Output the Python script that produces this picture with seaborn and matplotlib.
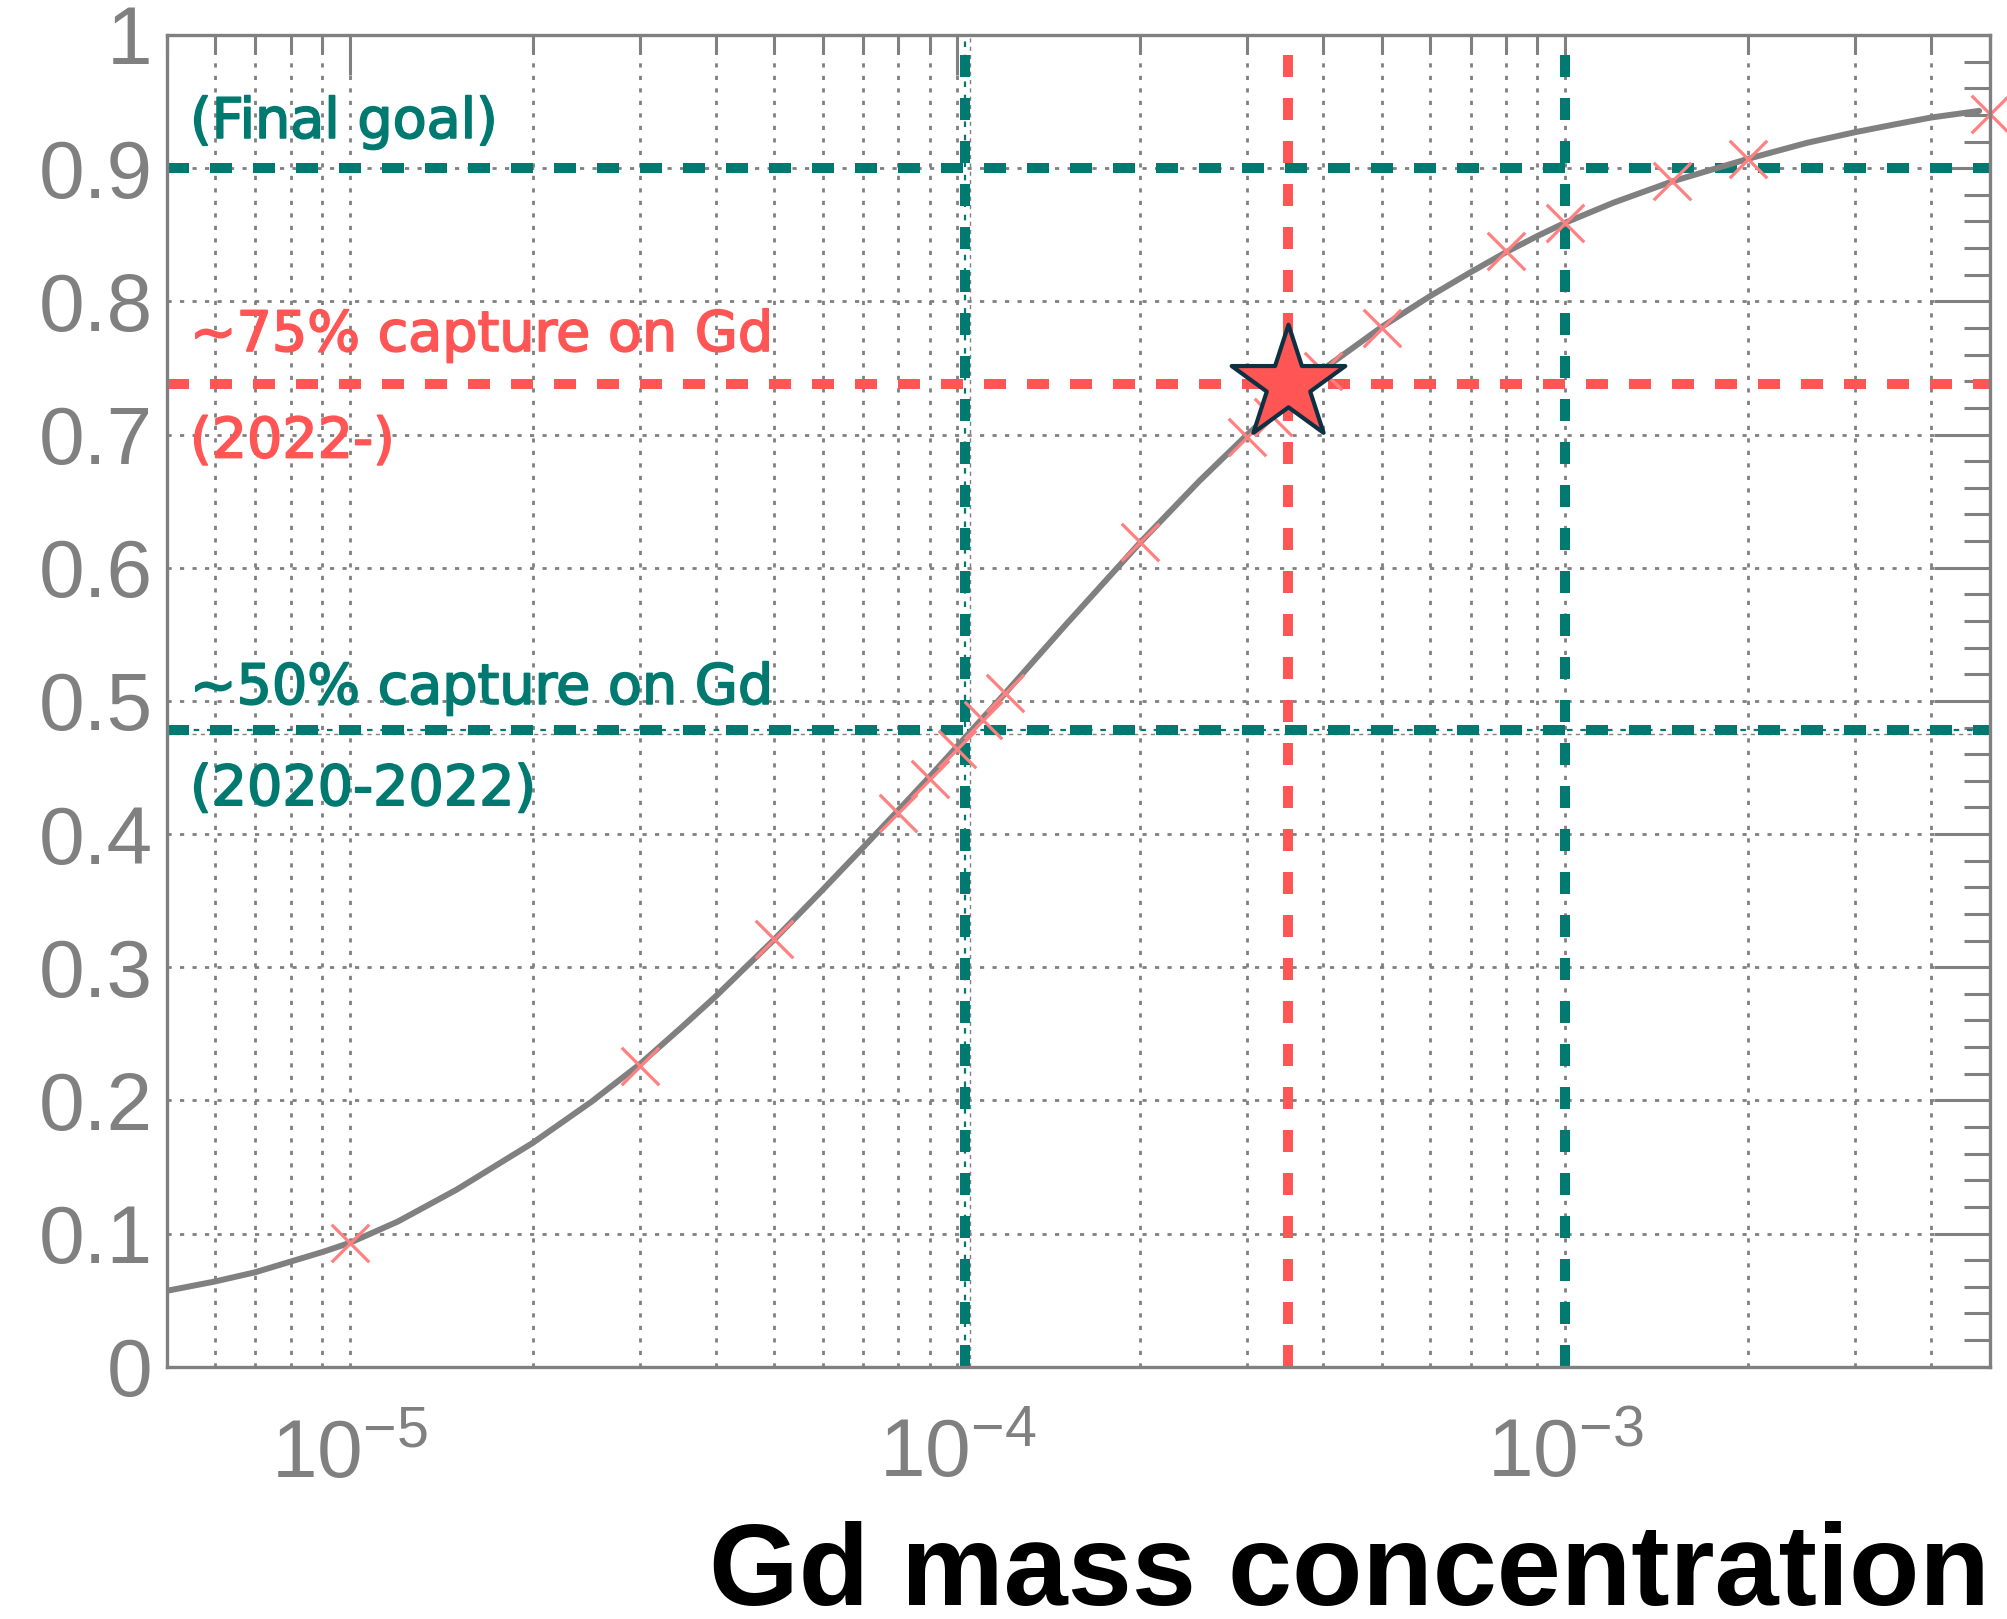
import matplotlib
matplotlib.use("Agg")
import matplotlib.pyplot as plt
import matplotlib.ticker as mticker
import matplotlib.transforms as mtransforms
import matplotlib.patheffects as pe
import numpy as np
import pandas as pd
import seaborn as sns

# ---- data -----------------------------------------------------------------
# fitted capture fraction on Gd vs. Gd mass concentration
curve_conc = [5e-6, 6e-6, 7e-6, 8e-6, 9e-6, 1e-5, 1.2e-5, 1.5e-5, 2e-5, 2.5e-5,
              3e-5, 3.5e-5, 4e-5, 5e-5, 6e-5, 7e-5, 8e-5, 9e-5, 1e-4, 1.2e-4,
              1.5e-4, 2e-4, 2.5e-4, 3e-4, 3.5e-4, 4e-4, 5e-4, 6e-4, 7e-4, 8e-4,
              9e-4, 1e-3, 1.2e-3, 1.5e-3, 2e-3, 2.5e-3, 3e-3, 3.5e-3, 4e-3, 4.8e-3]
curve_frac = [0.057, 0.064, 0.071, 0.079, 0.086, 0.093, 0.109, 0.133, 0.168, 0.199,
              0.227, 0.254, 0.278, 0.321, 0.358, 0.390, 0.418, 0.443, 0.466, 0.506,
              0.556, 0.619, 0.665, 0.700, 0.727, 0.749, 0.781, 0.804, 0.822, 0.837,
              0.849, 0.859, 0.874, 0.890, 0.907, 0.919, 0.927, 0.933, 0.938, 0.943]

# simulated points
meas_conc = [1e-5, 3e-5, 5e-5, 8e-5, 9e-5, 1e-4, 1.1e-4, 1.2e-4, 2e-4, 3e-4,
             3.3e-4, 4e-4, 5e-4, 8e-4, 1e-3, 1.5e-3, 2e-3, 5e-3]
meas_frac = [0.093, 0.226, 0.321, 0.416, 0.441, 0.464, 0.486, 0.506, 0.619, 0.698,
             0.713, 0.748, 0.780, 0.838, 0.859, 0.890, 0.907, 0.941]

# current working point
star_conc = [3.5e-4]
star_frac = [0.738]

# reference levels
teal_levels_y = [0.9, 0.478]
teal_levels_x = [1.03e-4, 1e-3]
red_level_y = 0.738
red_level_x = 3.5e-4
guide_y = 0.475
guide_x = 1.048e-4

y_tick_values = [0, 0.1, 0.2, 0.3, 0.4, 0.5, 0.6, 0.7, 0.8, 0.9, 1.0]
y_tick_labels = ["0", "0.1", "0.2", "0.3", "0.4", "0.5", "0.6", "0.7", "0.8", "0.9", "1"]
x_tick_values = [1e-5, 1e-4, 1e-3]
x_tick_labels = [r"$\mathregular{10^{-5}}$", r"$\mathregular{10^{-4}}$", r"$\mathregular{10^{-3}}$"]

annotations = [
    ("(Final goal)", 0.934, "teal"),
    ("~75% capture on Gd", 0.774, "red"),
    ("(2022-)", 0.694, "red"),
    ("~50% capture on Gd", 0.509, "teal"),
    ("(2020-2022)", 0.433, "teal"),
]

# ---- style ----------------------------------------------------------------
GRAY = "#808080"
TEAL = "#007A70"
RED = "#FF5555"
PINK = "#FF8080"
NAVY = "#0D3142"

sns.set_style("white")
plt.rcParams["font.family"] = ["Liberation Sans", "DejaVu Sans"]
plt.rcParams["mathtext.fontset"] = "custom"
plt.rcParams["mathtext.rm"] = "Liberation Sans"
plt.rcParams["mathtext.it"] = "Liberation Sans:italic"
plt.rcParams["mathtext.bf"] = "Liberation Sans:bold"

fig = plt.figure(figsize=(20.08, 16.19), dpi=100)
ax = fig.add_axes([0.0830, 0.1558, 0.9080, 0.8226])

ax.set_xscale("log")
ax.set_xlim(5e-6, 5e-3)
ax.set_ylim(0, 1)

# grid
dot = (0, (1.5, 3.0))
ax.grid(which="major", axis="both", color=GRAY, linestyle=dot, linewidth=2.0, zorder=0)
ax.grid(which="minor", axis="x", color=GRAY, linestyle=dot, linewidth=2.0, zorder=0)
ax.set_axisbelow(True)

# thin guides
ax.axhline(guide_y, color=GRAY, lw=1.0, ls=(0, (3, 3)), zorder=1)
ax.axvline(guide_x, color=GRAY, lw=1.0, ls=(0, (3, 3)), zorder=1)
ax.axhline(teal_levels_y[1], color=TEAL, lw=1.6, ls=(0, (2.5, 3.5)), zorder=1)
ax.axvline(teal_levels_x[0], color=TEAL, lw=1.6, ls=(0, (2.5, 3.5)), zorder=1)

# thick reference lines
thick = dict(lw=7.2, ls=(0, (2.2, 2.1)), zorder=2, solid_capstyle="butt", dash_capstyle="butt")
for yv in teal_levels_y:
    ax.axhline(yv, color=TEAL, **thick)
for xv in teal_levels_x:
    ax.axvline(xv, color=TEAL, **thick)
ax.axhline(red_level_y, color=RED, **thick)
ax.axvline(red_level_x, color=RED, **thick)

# curve and points
curve_df = pd.DataFrame({"conc": curve_conc, "frac": curve_frac})
meas_df = pd.DataFrame({"conc": meas_conc, "frac": meas_frac})
star_df = pd.DataFrame({"conc": star_conc, "frac": star_frac})

sns.lineplot(data=curve_df, x="conc", y="frac", ax=ax, color=GRAY, lw=4.3,
             sort=False, estimator=None, zorder=3)
sns.scatterplot(data=meas_df, x="conc", y="frac", ax=ax, marker="x", s=27 ** 2,
                color=PINK, linewidth=2.3, zorder=4, clip_on=False)
sns.scatterplot(data=star_df, x="conc", y="frac", ax=ax, marker="*", s=86 ** 2,
                color=RED, edgecolor=NAVY, linewidth=3.0, zorder=6, clip_on=False)

# ticks
ax.xaxis.set_major_locator(mticker.FixedLocator(x_tick_values))
ax.xaxis.set_major_formatter(mticker.FixedFormatter(x_tick_labels))
ax.xaxis.set_minor_locator(mticker.LogLocator(base=10, subs=np.arange(2, 10)))
ax.xaxis.set_minor_formatter(mticker.NullFormatter())
ax.yaxis.set_major_locator(mticker.FixedLocator(y_tick_values))
ax.yaxis.set_major_formatter(mticker.FixedFormatter(y_tick_labels))
ax.yaxis.set_minor_locator(mticker.MultipleLocator(0.02))

ax.tick_params(axis="both", which="both", direction="in", top=True, right=True,
               colors=GRAY, width=2.2)
ax.tick_params(axis="y", which="major", length=40, labelsize=59, pad=10)
ax.tick_params(axis="y", which="minor", length=19)
ax.tick_params(axis="x", which="major", length=29, labelsize=59, pad=37)
ax.tick_params(axis="x", which="minor", length=14)

for sp in ax.spines.values():
    sp.set_visible(True)
    sp.set_color(GRAY)
    sp.set_linewidth(2.4)
    sp.set_zorder(7)

ax.set_xlabel("")
ax.set_ylabel("")

# annotations
trans = mtransforms.blended_transform_factory(ax.transAxes, ax.transData)
color_map = {"teal": TEAL, "red": RED}
for txt, yv, c in annotations:
    col = color_map[c]
    ax.text(0.0128, yv, txt, transform=trans, color=col, fontsize=40,
            family=["DejaVu Sans"], fontweight="normal", va="center",
            ha="left", zorder=8,
            path_effects=[pe.withStroke(linewidth=1.3, foreground=col)])

fig.text(0.991, 0.0087, "Gd mass concentration", ha="right", va="baseline",
         fontsize=83, fontweight="bold", color="black",
         family=["Liberation Sans", "DejaVu Sans"])

fig.savefig("out.png", dpi=100)
